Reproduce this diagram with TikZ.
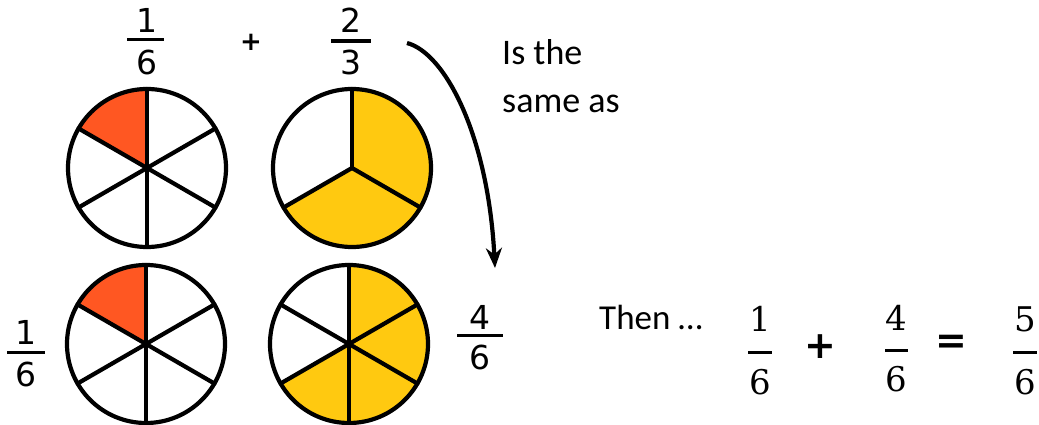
\documentclass[tikz,border=0pt]{standalone}
\usepackage{fontspec}
\usetikzlibrary{arrows.meta}
\newfontfamily\calib{Carlito}
\newfontfamily\comic{DejaVu Sans}
\newfontfamily\mathser{DejaVu Serif}
\definecolor{sliceRed}{RGB}{255,87,34}
\definecolor{sliceYel}{RGB}{255,201,16}
\begin{document}
\begin{tikzpicture}[x=1pt,y=1pt,
  wheel/.style={line width=4.2pt, draw=black},
  spoke/.style={line width=4.2pt, line cap=round},
  fbar/.style={line width=3.4pt},
  mbar/.style={line width=3pt},
  comicnum/.style={anchor=base, inner sep=0pt, font=\comic\fontsize{33}{36}\selectfont},
  mathnum/.style={anchor=base, inner sep=0pt, font=\mathser\fontsize{34}{36}\selectfont},
  mathop/.style={inner sep=0pt, font=\comic\bfseries\fontsize{38}{40}\selectfont},
  caltext/.style={anchor=base west, inner sep=0pt, align=left, font=\calib\fontsize{36}{48}\selectfont},
  arrowline/.style={line width=4.2pt, -{Stealth[length=20pt,width=16pt]}}
]
\useasboundingbox (0,0) rectangle (1039,425);
\fill[white] (0,0) rectangle (1039,425);

% ---------- wheels ----------
% top-left: 1/6
\coordinate (tl) at (147,257);
\fill[sliceRed] (tl) -- ++(90:79) arc[start angle=90,end angle=150,radius=79] -- cycle;
\foreach \a in {30,90,150,210,270,330} \draw[spoke] (tl) -- ++(\a:79);
\draw[wheel] (tl) circle[radius=79];

% top-right: 2/3
\coordinate (tr) at (352,257);
\fill[sliceYel] (tr) -- ++(-150:79) arc[start angle=-150,end angle=90,radius=79] -- cycle;
\foreach \a in {90,210,330} \draw[spoke] (tr) -- ++(\a:79);
\draw[wheel] (tr) circle[radius=79];

% bottom-left: 1/6
\coordinate (bl) at (146,81);
\fill[sliceRed] (bl) -- ++(90:79) arc[start angle=90,end angle=150,radius=79] -- cycle;
\foreach \a in {30,90,150,210,270,330} \draw[spoke] (bl) -- ++(\a:79);
\draw[wheel] (bl) circle[radius=79];

% bottom-right: 4/6
\coordinate (br) at (349,81);
\fill[sliceYel] (br) -- ++(-150:79) arc[start angle=-150,end angle=90,radius=79] -- cycle;
\foreach \a in {30,90,150,210,270,330} \draw[spoke] (br) -- ++(\a:79);
\draw[wheel] (br) circle[radius=79];

% ---------- comic fractions ----------
\node[comicnum] (n1) at (147,392) {1};
\draw[fbar] (127,385.5) -- (164,385.5);
\node[comicnum] (d1) at (147,350) {6};

\node[inner sep=0pt, font=\comic\bfseries\fontsize{26}{28}\selectfont] (plusTop) at (251,383) {+};

\node[comicnum] (n2) at (351,392) {2};
\draw[fbar] (331,384) -- (371,384);
\node[comicnum] (d2) at (351,350) {3};

\node[comicnum] (n3) at (26,80) {1};
\draw[fbar] (7,72.5) -- (45,72.5);
\node[comicnum] (d3) at (26,38) {6};

\node[comicnum] (n4) at (480,95) {4};
\draw[fbar] (457,89.5) -- (503,89.5);
\node[comicnum] (d4) at (480,55) {6};

% ---------- arrow ----------
\coordinate (arrS) at (407,382);
\coordinate (arrE) at (495,157);
\draw[arrowline] (arrS) .. controls (445,372) and (488,290) .. (arrE);

\node[caltext] (same) at (502,312) {Is the\\same as};
\node[caltext, font=\calib\fontsize{35}{48}\selectfont] (then) at (599,95) {Then …};

% ---------- math fractions ----------
\node[mathnum] (m1n) at (760,93) {1};
\draw[mbar] (748,72) -- (772,72);
\node[mathnum] (m1d) at (760,30) {6};

\node[mathop] (mplus) at (820,78) {+};

\node[mathnum] (m2n) at (896,94) {4};
\draw[mbar] (885,74) -- (908,74);
\node[mathnum] (m2d) at (896,33) {6};

\node[mathop] (meq) at (951,81) {=};

\node[mathnum] (m3n) at (1025,93) {5};
\draw[mbar] (1013,72) -- (1037,72);
\node[mathnum] (m3d) at (1025,30) {6};
\end{tikzpicture}
\end{document}
